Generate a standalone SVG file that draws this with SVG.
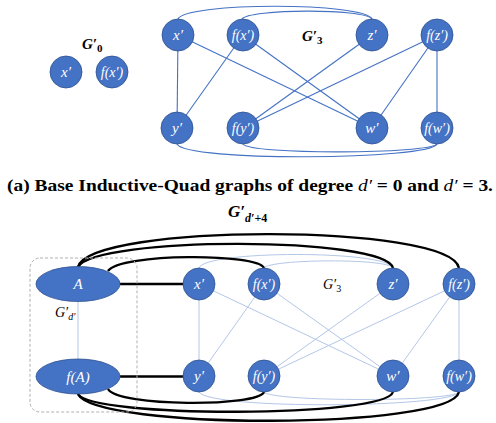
<svg xmlns="http://www.w3.org/2000/svg" width="496" height="423" viewBox="0 0 496 423">
<style>
.n{fill:#4472c4;stroke:#2f528f;stroke-width:0.8}
.t{fill:#fff;font-family:"Liberation Serif",serif;font-style:italic;font-size:15px;text-anchor:middle;dominant-baseline:central}
.s{font-size:14px}
.e{stroke:#4472c4;stroke-width:1.1;fill:none}
.l{stroke:#b4c7e7;stroke-width:1;fill:none}
.k{stroke:#000;stroke-width:2.4;fill:none}
.lab{font-family:"Liberation Serif",serif;font-style:italic;fill:#000}
</style>
<rect width="496" height="423" fill="#fff"/>
<g id="connectors">
<line class="e" x1="178" y1="35" x2="177" y2="128"/>
<line class="e" x1="178" y1="35" x2="372" y2="128"/>
<line class="e" x1="243" y1="35" x2="177" y2="128"/>
<line class="e" x1="243" y1="35" x2="372" y2="128"/>
<line class="e" x1="372" y1="35" x2="243" y2="128"/>
<line class="e" x1="437" y1="35" x2="243" y2="128"/>
<line class="e" x1="437" y1="35" x2="372" y2="128"/>
<line class="e" x1="437" y1="35" x2="437" y2="128"/>
<path class="e" d="M178,19 C185,2 365,2 372,19"/>
<path class="e" d="M242,19 C248,9 365,8 372,19"/>
<path class="e" d="M177,144 C185,162 430,160 437,144"/>
<path class="e" d="M243,144 C250,155 430,154 437,144"/>
<line class="l" x1="78" y1="301" x2="78" y2="359"/>
<line class="l" x1="199" y1="284" x2="199" y2="376"/>
<line class="l" x1="199" y1="284" x2="393" y2="376"/>
<line class="l" x1="264" y1="284" x2="199" y2="376"/>
<line class="l" x1="264" y1="284" x2="393" y2="376"/>
<line class="l" x1="393" y1="284" x2="264" y2="376"/>
<line class="l" x1="459" y1="284" x2="264" y2="376"/>
<line class="l" x1="459" y1="284" x2="393" y2="376"/>
<line class="l" x1="459" y1="284" x2="459" y2="376"/>
<path class="l" d="M199,268 C205,250 388,250 393,268"/>
<path class="l" d="M264,268 C270,259 388,258 393,268"/>
<path class="l" d="M199,392 C210,410 452,408 459,392"/>
<path class="l" d="M264,392 C272,402 452,402 459,392"/>
<line class="k" x1="120" y1="284" x2="199" y2="284"/>
<line class="k" x1="120" y1="376.5" x2="199" y2="376.5"/>
<path class="k" d="M78,267 C90,223 450,223 459,268"/>
<path class="k" d="M78,267 C95,236 385,236 393,268"/>
<path class="k" d="M108,271 C120,253 258,253 264,268"/>
<path class="k" d="M108,389 C118,407 258,407 264,392"/>
<path class="k" d="M78,394 C90,418 385,418 393,392"/>
<path class="k" d="M78,394 C95,430 450,430 459,392"/>
</g>
<rect x="30" y="258" width="107" height="154" rx="10" fill="none" stroke="#b0b0b0" stroke-width="1" stroke-dasharray="3,2"/>
<g id="g0-x"><circle class="n" cx="66" cy="72" r="16"/><text class="t" x="66" y="72">x′</text></g>
<g id="g0-fx"><circle class="n" cx="112" cy="72" r="16"/><text class="t s" x="112" y="72">f(x′)</text></g>
<g id="t-x"><circle class="n" cx="178" cy="35" r="16"/><text class="t" x="178" y="35">x′</text></g>
<g id="t-fx"><circle class="n" cx="243" cy="35" r="16"/><text class="t s" x="243" y="35">f(x′)</text></g>
<g id="t-z"><circle class="n" cx="372" cy="35" r="16"/><text class="t" x="372" y="35">z′</text></g>
<g id="t-fz"><circle class="n" cx="437" cy="35" r="16"/><text class="t s" x="437" y="35">f(z′)</text></g>
<g id="t-y"><circle class="n" cx="177" cy="128" r="16"/><text class="t" x="177" y="128">y′</text></g>
<g id="t-fy"><circle class="n" cx="243" cy="128" r="16"/><text class="t s" x="243" y="128">f(y′)</text></g>
<g id="t-w"><circle class="n" cx="372" cy="128" r="16"/><text class="t" x="372" y="128">w′</text></g>
<g id="t-fw"><circle class="n" cx="437" cy="128" r="16"/><text class="t s" x="437" y="128">f(w′)</text></g>
<text class="lab" x="82" y="49" font-size="15" font-weight="bold">G′<tspan font-size="11" font-style="normal" dy="3">0</tspan></text>
<text class="lab" x="302" y="41" font-size="15" font-weight="bold">G′<tspan font-size="11" font-style="normal" dy="3">3</tspan></text>
<text x="7" y="191" font-family="Liberation Serif,serif" font-weight="bold" font-size="17" textLength="486" lengthAdjust="spacingAndGlyphs">(a) Base Inductive-Quad graphs of degree <tspan font-style="italic" font-weight="normal">d′</tspan> = 0 and <tspan font-style="italic" font-weight="normal">d′</tspan> = 3.</text>
<text class="lab" x="228" y="217" font-size="17" font-weight="bold">G′<tspan font-size="12" dy="5">d′</tspan><tspan font-size="12" font-style="normal">+4</tspan></text>
<g id="b-A"><ellipse class="n" cx="78" cy="284" rx="42" ry="17.5"/><text class="t" x="78" y="284">A</text></g>
<g id="b-fA"><ellipse class="n" cx="78" cy="376.5" rx="42" ry="17.5"/><text class="t" x="78" y="376.5">f(A)</text></g>
<g id="b-x"><circle class="n" cx="199" cy="284" r="16"/><text class="t" x="199" y="284">x′</text></g>
<g id="b-fx"><circle class="n" cx="264" cy="284" r="16"/><text class="t s" x="264" y="284">f(x′)</text></g>
<g id="b-z"><circle class="n" cx="393" cy="284" r="16"/><text class="t" x="393" y="284">z′</text></g>
<g id="b-fz"><circle class="n" cx="459" cy="284" r="16"/><text class="t s" x="459" y="284">f(z′)</text></g>
<g id="b-y"><circle class="n" cx="199" cy="376" r="16"/><text class="t" x="199" y="376">y′</text></g>
<g id="b-fy"><circle class="n" cx="264" cy="376" r="16"/><text class="t s" x="264" y="376">f(y′)</text></g>
<g id="b-w"><circle class="n" cx="393" cy="376" r="16"/><text class="t" x="393" y="376">w′</text></g>
<g id="b-fw"><circle class="n" cx="459" cy="376" r="16"/><text class="t s" x="459" y="376">f(w′)</text></g>
<text class="lab" x="55" y="317" font-size="14">G′<tspan font-size="10" dy="3">d′</tspan></text>
<text class="lab" x="323" y="289" font-size="14">G′<tspan font-size="10" font-style="normal" dy="3">3</tspan></text>
</svg>
